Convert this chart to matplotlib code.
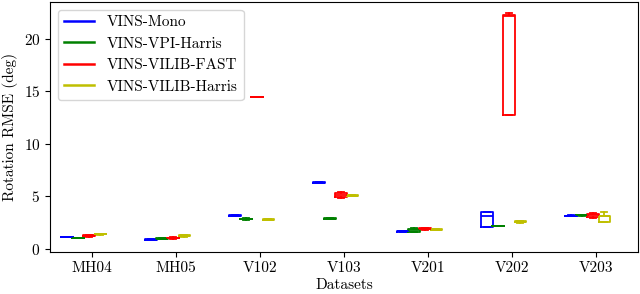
import matplotlib

matplotlib.use("Agg")
import matplotlib.pyplot as plt
from matplotlib.lines import Line2D

plt.rcParams["font.family"] = "serif"
plt.rcParams["font.serif"] = ["cmr10"]
plt.rcParams["mathtext.fontset"] = "cm"
plt.rcParams["axes.formatter.use_mathtext"] = True
plt.rcParams["font.size"] = 11

datasets = ["MH04", "MH05", "V102", "V103", "V201", "V202", "V203"]
methods = ["VINS-Mono", "VINS-VPI-Harris", "VINS-VILIB-FAST", "VINS-VILIB-Harris"]
colors = ["b", "g", "r", "y"]

# rotation RMSE (deg) per run, one list per dataset
vins_mono = [
    [1.12, 1.13, 1.14, 1.15, 1.16],
    [0.82, 0.85, 0.88, 0.91, 0.94],
    [3.17, 3.18, 3.19, 3.20, 3.21],
    [6.31, 6.32, 6.33, 6.34, 6.35],
    [1.58, 1.62, 1.67, 1.73, 1.76],
    [2.08, 2.09, 3.16, 3.56, 3.57],
    [3.12, 3.14, 3.16, 3.18, 3.20],
]
vins_vpi_harris = [
    [1.05, 1.06, 1.07, 1.08, 1.09],
    [0.96, 0.98, 1.00, 1.03, 1.05],
    [2.79, 2.82, 2.85, 2.88, 2.91],
    [2.82, 2.85, 2.88, 2.91, 2.94],
    [1.58, 1.65, 1.77, 1.92, 1.96],
    [2.16, 2.17, 2.18, 2.19, 2.20],
    [3.19, 3.21, 3.23, 3.25, 3.27],
]
vins_vilib_fast = [
    [1.18, 1.22, 1.26, 1.30, 1.33],
    [0.98, 1.01, 1.04, 1.07, 1.10],
    [14.44, 14.45, 14.46, 14.47, 14.48],
    [4.90, 4.96, 5.15, 5.35, 5.40],
    [1.83, 1.87, 1.93, 2.00, 2.05],
    [12.75, 12.76, 22.20, 22.25, 22.45],
    [2.94, 3.05, 3.20, 3.38, 3.42],
]
vins_vilib_harris = [
    [1.38, 1.40, 1.42, 1.44, 1.46],
    [1.15, 1.20, 1.26, 1.33, 1.38],
    [2.79, 2.80, 2.81, 2.82, 2.83],
    [5.07, 5.08, 5.09, 5.10, 5.11],
    [1.84, 1.85, 1.86, 1.87, 1.88],
    [2.50, 2.53, 2.59, 2.66, 2.70],
    [2.60, 2.62, 3.16, 3.19, 3.48],
]
all_runs = [vins_mono, vins_vpi_harris, vins_vilib_fast, vins_vilib_harris]

offsets = [-0.30, -0.165, -0.035, 0.10]
box_width = 0.14

fig, ax = plt.subplots(figsize=(6.4, 2.94), dpi=100)

for runs, color, offset in zip(all_runs, colors, offsets):
    positions = [i + 1 + offset for i in range(len(datasets))]
    style = {"color": color, "linewidth": 1.3}
    ax.boxplot(
        runs,
        positions=positions,
        widths=box_width,
        showfliers=False,
        manage_ticks=False,
        boxprops=style,
        medianprops=style,
        whiskerprops=style,
        capprops=style,
    )

ax.set_xticks(range(1, len(datasets) + 1))
ax.set_xticklabels(datasets)
ax.set_xlim(0.5, len(datasets) + 0.5)
ax.set_ylim(-0.28, 23.5)
ax.set_yticks([0, 5, 10, 15, 20])
ax.set_xlabel("Datasets", labelpad=2)
ax.set_ylabel("Rotation RMSE (deg)")

handles = [Line2D([0], [0], color=c, linewidth=1.8) for c in colors]
ax.legend(handles, methods, loc="upper left", fontsize=11, borderaxespad=0.5)

fig.subplots_adjust(left=50 / 640, right=638 / 640, top=1 - 2 / 294, bottom=1 - 252 / 294)
fig.savefig("out.png", dpi=100)
plt.close(fig)
